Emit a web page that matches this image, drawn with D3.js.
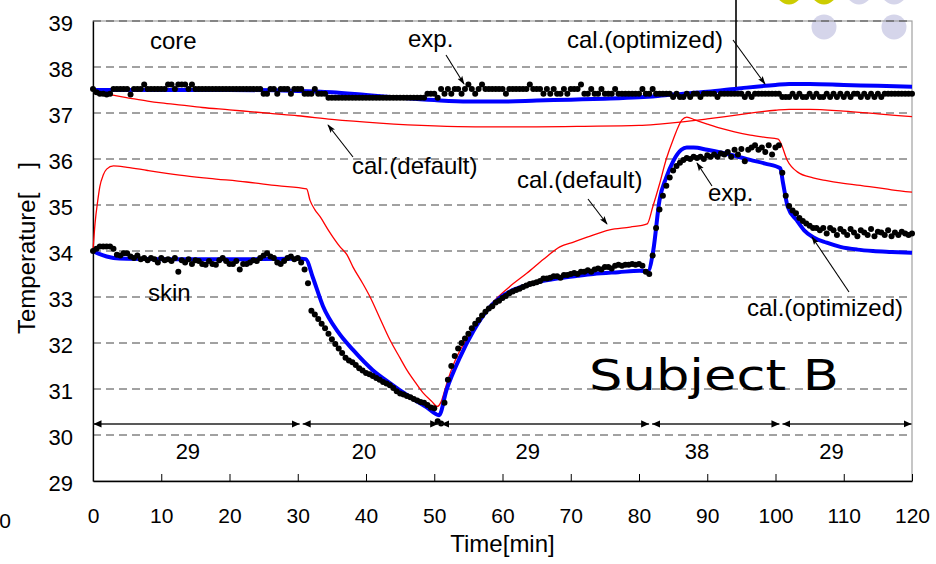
<!DOCTYPE html>
<html><head><meta charset="utf-8">
<script src="https://cdn.jsdelivr.net/npm/d3@7"></script>
<style>body{margin:0;background:#fff}svg{display:block}text{font-family:"Liberation Sans",Arial,sans-serif;fill:#000}</style>
</head><body><svg id="c" width="936" height="564"></svg>
<script>
// ---------- DATA ----------
const expStep = 0.5; // minutes between measured points (t = i*0.5)
const coreExp = [
37.52,37.45,37.42,37.42,37.4,37.42,37.52,37.52,37.52,37.52,
37.52,37.4,37.52,37.52,37.52,37.62,37.52,37.52,37.52,37.52,
37.52,37.52,37.62,37.62,37.52,37.62,37.62,37.62,37.52,37.62,
37.52,37.52,37.52,37.52,37.52,37.52,37.52,37.52,37.52,37.52,
37.52,37.52,37.52,37.52,37.52,37.52,37.52,37.52,37.52,37.52,
37.42,37.42,37.52,37.52,37.42,37.52,37.52,37.52,37.42,37.52,
37.52,37.52,37.42,37.42,37.42,37.52,37.42,37.42,37.42,37.33,
37.33,37.33,37.33,37.33,37.33,37.33,37.33,37.33,37.33,37.33,
37.33,37.33,37.33,37.33,37.33,37.33,37.33,37.33,37.33,37.33,
37.33,37.33,37.33,37.33,37.33,37.33,37.33,37.33,37.42,37.42,
37.42,37.33,37.52,37.42,37.52,37.42,37.52,37.52,37.42,37.52,
37.62,37.52,37.42,37.52,37.62,37.52,37.52,37.52,37.52,37.52,
37.52,37.42,37.52,37.52,37.52,37.52,37.52,37.52,37.62,37.52,
37.52,37.52,37.42,37.52,37.42,37.52,37.42,37.42,37.52,37.42,
37.52,37.52,37.52,37.62,37.42,37.42,37.52,37.42,37.42,37.52,
37.42,37.42,37.42,37.52,37.42,37.42,37.42,37.42,37.42,37.42,
37.42,37.52,37.42,37.42,37.52,37.42,37.42,37.42,37.42,37.42,
37.35,37.42,37.35,37.35,37.42,37.35,37.42,37.42,37.35,37.42,
37.42,37.42,37.42,37.35,37.42,37.42,37.42,37.42,37.42,37.42,
37.42,37.35,37.42,37.35,37.42,37.42,37.42,37.42,37.42,37.42,
37.42,37.42,37.35,37.35,37.35,37.42,37.35,37.42,37.35,37.35,
37.42,37.35,37.42,37.35,37.35,37.42,37.35,37.42,37.35,37.42,
37.35,37.42,37.35,37.42,37.42,37.35,37.42,37.35,37.42,37.35,
37.42,37.35,37.42,37.42,37.42,37.42,37.42,37.42,37.42,37.42,
37.42];
const skinExp = [
34.0,34.05,34.1,34.1,34.1,34.1,34.05,33.92,33.9,33.95,
33.95,33.88,33.85,33.9,33.82,33.85,33.8,33.85,33.82,33.75,
33.85,33.8,33.82,33.78,33.85,33.55,33.8,33.75,33.82,33.72,
33.8,33.78,33.72,33.7,33.78,33.72,33.7,33.8,33.85,33.78,
33.72,33.72,33.78,33.6,33.72,33.72,33.75,33.8,33.78,33.85,
33.9,33.95,33.88,33.85,33.75,33.72,33.78,33.85,33.88,33.82,
33.85,33.75,33.6,33.3,32.7,32.62,32.52,32.42,32.32,32.2,
32.08,31.98,31.88,31.78,31.68,31.62,31.58,31.52,31.45,31.4,
31.35,31.32,31.28,31.24,31.2,31.15,31.12,31.08,31.02,30.95,
30.9,30.88,30.85,30.82,30.78,30.75,30.72,30.7,30.65,30.6,
30.58,30.3,30.25,30.7,31.2,31.5,31.72,31.88,32.0,32.1,
32.2,32.32,32.42,32.5,32.6,32.68,32.75,32.8,32.88,32.92,
32.98,33.02,33.08,33.12,33.15,33.18,33.22,33.25,33.28,33.3,
33.32,33.35,33.4,33.4,33.42,33.45,33.45,33.42,33.48,33.48,
33.5,33.52,33.5,33.55,33.55,33.58,33.55,33.6,33.62,33.6,
33.65,33.65,33.62,33.68,33.7,33.68,33.7,33.7,33.72,33.7,
33.72,33.68,33.55,33.5,33.9,34.5,34.9,35.2,35.42,35.6,
35.75,35.85,35.92,35.98,36.02,36.0,36.05,36.02,36.05,36.0,
36.08,36.05,36.1,36.05,36.12,36.1,36.15,36.05,36.2,36.1,
36.22,35.95,36.2,36.25,36.3,36.2,36.25,36.15,36.3,36.1,
36.25,36.3,35.7,35.2,34.98,34.88,34.82,34.72,34.65,34.6,
34.55,34.5,34.5,34.45,34.5,34.38,34.5,34.45,34.35,34.48,
34.42,34.35,34.48,34.4,34.32,34.45,34.4,34.35,34.48,34.32,
34.42,34.4,34.35,34.45,34.32,34.4,34.35,34.42,34.38,34.35,
34.38];

const coreOptT = [0,10,20,30,35,40,45,50,55,60,65,70,75,80,82,85,90,95,100,102,105,110,115,120];
const coreOptV = [37.5,37.5,37.5,37.48,37.45,37.39,37.33,37.28,37.25,37.25,37.27,37.29,37.31,37.34,37.36,37.4,37.46,37.54,37.61,37.63,37.63,37.61,37.59,37.57];

const coreDefT = [0,1,2,3.5,5.5,8,10,13,16,20,23,26,30,35,42,50,56,65,72,80,83,86,90,95,100,102,105,110,115,120];
const coreDefV = [37.5,37.46,37.42,37.37,37.32,37.26,37.22,37.17,37.12,37.07,37.03,36.99,36.94,36.86,36.78,36.72,36.7,36.7,36.71,36.73,36.76,36.8,36.87,36.97,37.06,37.08,37.08,37.04,36.98,36.92];

const skinDefT = [0,0.3,0.7,1,1.5,2,3,5,8,12.7,17,22.5,27,31.3,31.8,32.5,33.3,34.5,36.2,37.2,38.1,39.5,40.6,42,43.5,45,46,47.2,48.4,49.7,50.4,51,51.5,52,53,54,55,57,59.2,61,63.6,66,68.4,70.5,72.4,75.7,78.7,81.2,82,83,84,85,86.3,87,88.2,90,91.9,94,96.3,98.5,100.4,100.7,101.7,103.2,105.5,107.5,109.5,112,114.3,117,120];
const skinDefV = [34.0,34.6,35.1,35.4,35.65,35.78,35.85,35.82,35.75,35.65,35.58,35.5,35.42,35.35,35.1,34.9,34.74,34.45,34.09,33.92,33.65,33.3,33.0,32.55,32.07,31.67,31.41,31.15,30.91,30.72,30.62,30.72,30.95,31.2,31.6,31.9,32.15,32.6,32.98,33.22,33.52,33.82,34.09,34.2,34.3,34.46,34.52,34.59,34.95,35.45,36.0,36.42,36.85,36.91,36.85,36.76,36.67,36.59,36.52,36.47,36.43,36.37,35.98,35.72,35.59,35.53,35.48,35.43,35.39,35.33,35.28];

const skinOptT = [0,1,2,3,5,10,20,30.5,31.2,32.2,33.7,35.9,38.1,41,43.5,46,48.9,50.7,51.8,53.8,55.7,57.7,59.6,61.5,63.6,66,68.4,71,73.3,77,80.1,81.3,82.1,83,84,85,86.2,87,88,90,92.3,94,96.3,98.5,100.7,101.1,101.8,103.1,104.2,105.5,107.5,109.5,112,114.3,117,120];
const skinOptV = [34.0,33.93,33.88,33.85,33.83,33.82,33.82,33.83,33.82,33.43,32.8,32.24,31.85,31.41,31.13,30.87,30.6,30.43,30.98,31.7,32.25,32.7,32.98,33.15,33.26,33.35,33.41,33.46,33.5,33.54,33.57,33.56,34.02,35.1,35.6,35.95,36.2,36.25,36.25,36.2,36.13,36.07,35.98,35.9,35.8,35.48,34.96,34.67,34.45,34.3,34.18,34.09,34.03,34.0,33.98,33.96];

const xTicks = [0,10,20,30,40,50,60,70,80,90,100,110,120];
const yTicks = [29,30,31,32,33,34,35,36,37,38,39];
const gridTicks = [30,31,32,33,34,35,36,37,38,39];
const intervalBounds = [0,30.5,50.8,81.7,100.8,120];
const intervalLabels = ["29","20","29","38","29"];
const intervalLabelT = [13.9,39.7,63.7,88.5,108.2];
const intervalTemp = 30.24;

// ---------- DRAW ----------
const svg = d3.select("#c");
const x = d3.scaleLinear().domain([0,120]).range([93,912]);
const y = d3.scaleLinear().domain([29,39]).range([481,21]);

const defs = svg.append("defs");
defs.append("marker").attr("id","ann").attr("viewBox","0 -4 10 8").attr("refX",9).attr("refY",0)
  .attr("markerUnits","userSpaceOnUse").attr("markerWidth",9).attr("markerHeight",7).attr("orient","auto")
  .append("path").attr("d","M0,-3.2L10,0L0,3.2L2,0Z").attr("fill","#000");
defs.append("marker").attr("id","iv").attr("viewBox","0 -4 8 8").attr("refX",8).attr("refY",0)
  .attr("markerUnits","userSpaceOnUse").attr("markerWidth",8).attr("markerHeight",8).attr("orient","auto-start-reverse")
  .append("path").attr("d","M0,-3.6L8,0L0,3.6Z").attr("fill","#000");

// decorative circles top right
const circ = [[789,-8,"#cccc00"],[824,-8,"#cccc00"],[859,-8,"#d5d5ea"],[894,-8,"#d5d5ea"],[824,27,"#d5d5ea"],[894,27,"#d5d5ea"]];
svg.selectAll("circle.deco").data(circ).join("circle").attr("class","deco")
  .attr("cx",d=>d[0]).attr("cy",d=>d[1]).attr("r",12.5).attr("fill",d=>d[2]);

// plot border (gray)
svg.append("rect").attr("x",x(0)).attr("y",y(39)).attr("width",x(120)-x(0)).attr("height",y(29)-y(39))
  .attr("fill","none").attr("stroke","#a0a0a0").attr("stroke-width",1.2);

// grid
svg.append("g").selectAll("line").data(gridTicks).join("line")
  .attr("x1",x(0)).attr("x2",x(120)).attr("y1",d=>y(d)).attr("y2",d=>y(d))
  .attr("stroke","#444").attr("stroke-width",1).attr("stroke-dasharray","8,5");

// axes
const gx = svg.append("g").attr("transform",`translate(0,${y(29)})`)
  .call(d3.axisBottom(x).tickValues(xTicks).tickSizeInner(-7).tickSizeOuter(0).tickPadding(27));
gx.select(".domain").attr("stroke","#000").attr("stroke-width",1.3);
gx.selectAll(".tick line").attr("stroke","#000");
gx.selectAll("text").attr("font-size",21).attr("font-family","Liberation Sans, Arial, sans-serif");

const gy = svg.append("g").attr("transform",`translate(${x(0)},0)`)
  .call(d3.axisLeft(y).tickValues(yTicks).tickSize(0).tickPadding(20));
gy.select(".domain").attr("stroke","#000").attr("stroke-width",1.3);
gy.selectAll("text").attr("font-size",22).attr("dy","0.41em").attr("font-family","Liberation Sans, Arial, sans-serif");

// lines
const line = d3.line().x(d=>x(d[0])).y(d=>y(d[1])).curve(d3.curveMonotoneX);
const zip = (T,V)=>T.map((t,i)=>[t,V[i]]);
svg.append("path").datum(zip(coreDefT,coreDefV)).attr("d",line).attr("fill","none").attr("stroke","#ff0000").attr("stroke-width",1.3);
svg.append("path").datum(zip(skinDefT,skinDefV)).attr("d",line).attr("fill","none").attr("stroke","#ff0000").attr("stroke-width",1.3);
svg.append("path").datum(zip(coreOptT,coreOptV)).attr("d",line).attr("fill","none").attr("stroke","#0000ff").attr("stroke-width",4);
svg.append("path").datum(zip(skinOptT,skinOptV)).attr("d",line).attr("fill","none").attr("stroke","#0000ff").attr("stroke-width",4);

// measured points
const pts = coreExp.map((v,i)=>[i*expStep,v]).concat(skinExp.map((v,i)=>[i*expStep,v]));
svg.append("g").selectAll("circle").data(pts).join("circle")
  .attr("cx",d=>x(d[0])).attr("cy",d=>y(d[1])).attr("r",3).attr("fill","#000");

// interval arrows
const ivs = intervalLabels.map((l,i)=>({a:intervalBounds[i],b:intervalBounds[i+1],l,lt:intervalLabelT[i]}));
const gi = svg.append("g");
gi.selectAll("line").data(ivs).join("line")
  .attr("x1",d=>x(d.a)+(d.a>0?1.5:0.5)).attr("x2",d=>x(d.b)-(d.b<120?1.5:0.5))
  .attr("y1",y(intervalTemp)).attr("y2",y(intervalTemp))
  .attr("stroke","#222").attr("stroke-width",1.4)
  .attr("marker-start","url(#iv)").attr("marker-end","url(#iv)");
gi.selectAll("text").data(ivs).join("text")
  .attr("x",d=>x(d.lt)).attr("y",459).attr("text-anchor","middle").attr("font-size",22).text(d=>d.l);

// vertical line top right
svg.append("line").attr("x1",736).attr("x2",736).attr("y1",0).attr("y2",87).attr("stroke","#000").attr("stroke-width",1.6);

// annotations
const ann = [
  {t:"core",x:150,y:49},
  {t:"exp.",x:408,y:47,a:[446,55,464,84]},
  {t:"cal.(optimized)",x:567,y:48,a:[733,40,765,84]},
  {t:"cal.(default)",x:352,y:174,a:[353,157,328,125]},
  {t:"cal.(default)",x:517,y:188,a:[588,199,607,224]},
  {t:"exp.",x:708,y:201,a:[712,186,697,163]},
  {t:"skin",x:148,y:301},
  {t:"cal.(optimized)",x:747,y:316,a:[849,292,812,237]}
];
svg.append("g").selectAll("text").data(ann).join("text")
  .attr("x",d=>d.x).attr("y",d=>d.y).attr("font-size",24).text(d=>d.t);
svg.append("g").selectAll("line").data(ann.filter(d=>d.a)).join("line")
  .attr("x1",d=>d.a[0]).attr("y1",d=>d.a[1]).attr("x2",d=>d.a[2]).attr("y2",d=>d.a[3])
  .attr("stroke","#000").attr("stroke-width",1.1).attr("marker-end","url(#ann)");

// Subject B
svg.append("text").attr("x",589).attr("y",390).attr("font-size",42)
  .style("font-family","'DejaVu Sans', sans-serif").attr("textLength",250).attr("lengthAdjust","spacingAndGlyphs")
  .text("Subject B");

// axis titles
svg.append("text").attr("x",x(60)).attr("y",552).attr("text-anchor","middle").attr("font-size",24).text("Time[min]");
svg.append("text").attr("transform","translate(35,248) rotate(-90)").attr("text-anchor","middle").attr("font-size",24).text("Temperature[\u3000]");
svg.append("text").attr("x",5).attr("y",528).attr("text-anchor","middle").attr("font-size",21).text("0");
</script></body></html>
